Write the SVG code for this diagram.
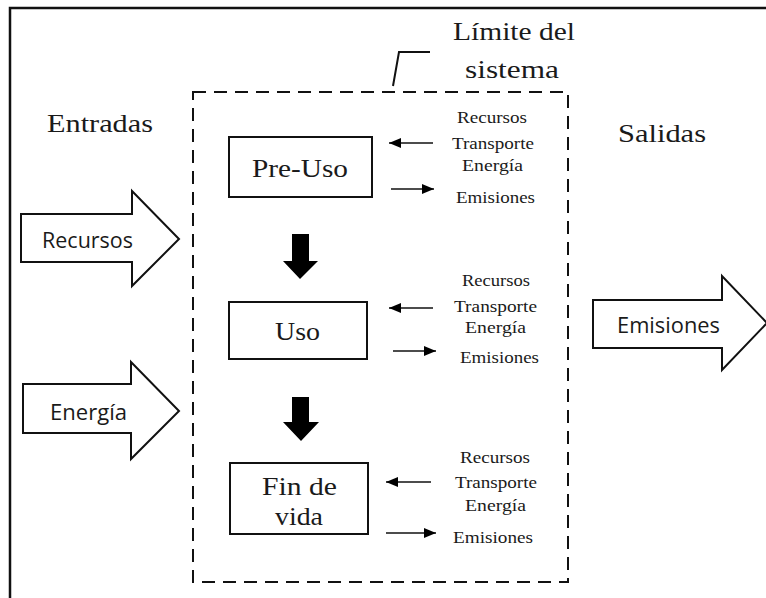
<svg xmlns="http://www.w3.org/2000/svg" width="766" height="598" viewBox="0 0 766 598">
<style>
.frame{fill:none;stroke:#111;stroke-width:2.5}
.dash{fill:none;stroke:#111;stroke-width:2;stroke-dasharray:13 8}
.box{fill:#fff;stroke:#111;stroke-width:2}
.big{fill:#fff;stroke:#111;stroke-width:2;stroke-linejoin:miter}
.blk{fill:#000;stroke:none}
.serif{font-family:"Liberation Serif","Times New Roman",serif;fill:#1a1a1a}
.t26{font-size:26px}
.t16{font-size:16.5px}
.sans{font-family:"Open Sans","Noto Sans","Liberation Sans",sans-serif;font-size:21px;fill:#1a1a1a}
.conn{stroke:#111;stroke-width:1.4;fill:none}
</style>
<defs>
<marker id="ah" viewBox="0 0 12 10" refX="12" refY="5" markerWidth="12" markerHeight="10" markerUnits="userSpaceOnUse" orient="auto">
<path d="M0,0 L12,5 L0,10 z" fill="#000"/>
</marker>
</defs>
<rect x="0" y="0" width="766" height="598" fill="#fff"/>
<path class="frame" d="M10,600 V8 H770"/>
<g id="system-boundary">
<rect class="dash" x="193" y="92" width="375" height="490"/>
<path d="M393,86 L399,52 H430" fill="none" stroke="#111" stroke-width="2"/>
<text class="serif t26" x="453" y="40" textLength="122" lengthAdjust="spacingAndGlyphs">Límite del</text>
<text class="serif t26" x="465" y="78" textLength="94" lengthAdjust="spacingAndGlyphs">sistema</text>
</g>
<g id="entradas"><text class="serif t26" x="47" y="132" textLength="106" lengthAdjust="spacingAndGlyphs">Entradas</text></g>
<g id="salidas"><text class="serif t26" x="618" y="142" textLength="88" lengthAdjust="spacingAndGlyphs">Salidas</text></g>
<g id="in-recursos">
<polygon class="big" points="21,214 132,214 132,191 179,239 132,286 132,262 21,262"/>
<text class="sans" x="42" y="248" textLength="91" lengthAdjust="spacingAndGlyphs">Recursos</text>
</g>
<g id="in-energia">
<polygon class="big" points="23,384 131,384 131,362 179,411 131,459 131,433 23,433"/>
<text class="sans" x="50" y="420" textLength="77" lengthAdjust="spacingAndGlyphs">Energía</text>
</g>
<g id="out-emisiones">
<polygon class="big" points="593,300 722,300 722,276 767,323 722,370 722,348 593,348"/>
<text class="sans" x="617" y="333" textLength="103" lengthAdjust="spacingAndGlyphs">Emisiones</text>
</g>
<g id="pre-uso">
<rect class="box" x="229" y="137" width="143" height="60"/>
<text class="serif t26" x="252" y="177" textLength="96" lengthAdjust="spacingAndGlyphs">Pre-Uso</text>
</g>
<g id="uso">
<rect class="box" x="229" y="302" width="138" height="57"/>
<text class="serif t26" x="275" y="340" textLength="45" lengthAdjust="spacingAndGlyphs">Uso</text>
</g>
<g id="fin-de-vida">
<rect class="box" x="230" y="463" width="138" height="71"/>
<text class="serif t26" x="262" y="495" textLength="75" lengthAdjust="spacingAndGlyphs">Fin de</text>
<text class="serif t26" x="275" y="525" textLength="48" lengthAdjust="spacingAndGlyphs">vida</text>
</g>
<g id="flows-pre-uso">
<text class="serif t16" x="457" y="123" textLength="70" lengthAdjust="spacingAndGlyphs">Recursos</text>
<text class="serif t16" x="452" y="149" textLength="82" lengthAdjust="spacingAndGlyphs">Transporte</text>
<text class="serif t16" x="462" y="171" textLength="61" lengthAdjust="spacingAndGlyphs">Energía</text>
<text class="serif t16" x="456" y="203" textLength="79" lengthAdjust="spacingAndGlyphs">Emisiones</text>
</g>
<g id="flows-uso">
<text class="serif t16" x="462" y="286" textLength="68" lengthAdjust="spacingAndGlyphs">Recursos</text>
<text class="serif t16" x="454" y="312" textLength="83" lengthAdjust="spacingAndGlyphs">Transporte</text>
<text class="serif t16" x="465" y="333" textLength="61" lengthAdjust="spacingAndGlyphs">Energía</text>
<text class="serif t16" x="460" y="363" textLength="79" lengthAdjust="spacingAndGlyphs">Emisiones</text>
</g>
<g id="flows-fin">
<text class="serif t16" x="460" y="463" textLength="70" lengthAdjust="spacingAndGlyphs">Recursos</text>
<text class="serif t16" x="455" y="488" textLength="82" lengthAdjust="spacingAndGlyphs">Transporte</text>
<text class="serif t16" x="465" y="511" textLength="61" lengthAdjust="spacingAndGlyphs">Energía</text>
<text class="serif t16" x="453" y="543" textLength="80" lengthAdjust="spacingAndGlyphs">Emisiones</text>
</g>
<g id="connectors">
<polygon class="blk" points="292,234 309,234 309,261 318,261 300,279 283,261 292,261"/>
<polygon class="blk" points="292,397 309,397 309,422 319,422 301,441 283,422 292,422"/>
<line class="conn" x1="433" y1="143" x2="389" y2="143" marker-end="url(#ah)"/>
<line class="conn" x1="391" y1="189" x2="434" y2="189" marker-end="url(#ah)"/>
<line class="conn" x1="433" y1="308" x2="389" y2="308" marker-end="url(#ah)"/>
<line class="conn" x1="393" y1="351" x2="436" y2="351" marker-end="url(#ah)"/>
<line class="conn" x1="431" y1="482" x2="386" y2="482" marker-end="url(#ah)"/>
<line class="conn" x1="386" y1="533" x2="436" y2="533" marker-end="url(#ah)"/>
</g>
</svg>
